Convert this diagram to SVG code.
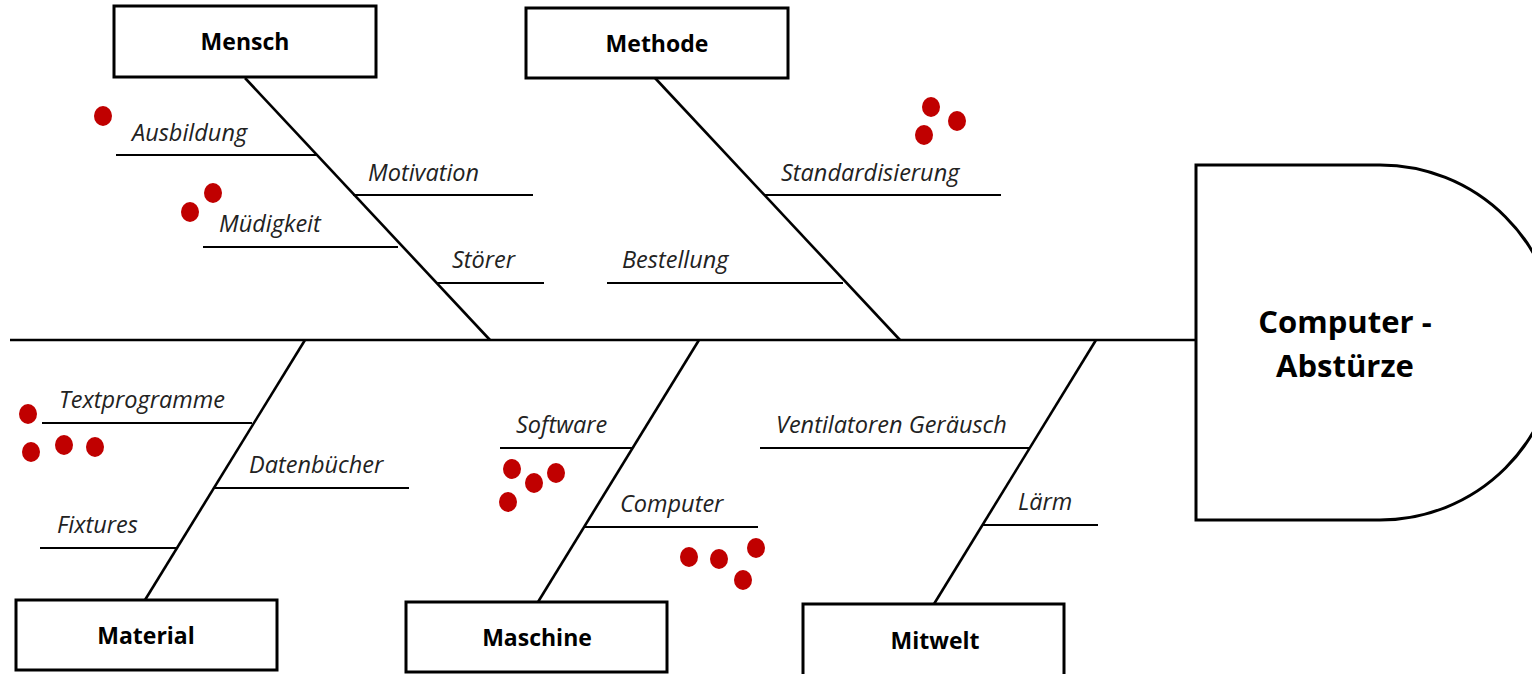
<svg xmlns="http://www.w3.org/2000/svg" width="1532" height="674" viewBox="0 0 1532 674">
<style>
.box{fill:#fff;stroke:#000;stroke-width:3}
.bone{stroke:#000;stroke-width:2.6;fill:none}
.sub{stroke:#000;stroke-width:2;fill:none}
.cat{font-family:"Open Sans","Noto Sans",sans-serif;font-weight:700;font-size:23px;fill:#000;text-anchor:middle}
.lbl{font-family:"Open Sans","Noto Sans",sans-serif;font-style:italic;font-weight:400;font-size:23.5px;fill:#222}
.head{font-family:"Open Sans","Noto Sans",sans-serif;font-weight:700;font-size:31px;fill:#000;text-anchor:middle}
.dot{fill:#c00000}
</style>
<rect width="1532" height="674" fill="#fff"/>
<g id="connectors">
<line class="bone" x1="10" y1="340" x2="1196" y2="340"/>
<line class="bone" x1="245" y1="78" x2="490" y2="340"/>
<line class="bone" x1="655" y1="78" x2="900" y2="340"/>
<line class="bone" x1="305" y1="340" x2="145" y2="600"/>
<line class="bone" x1="699" y1="340" x2="538" y2="602"/>
<line class="bone" x1="1096" y1="340" x2="934" y2="604"/>
<line class="sub" x1="116" y1="155" x2="316" y2="155"/>
<line class="sub" x1="353" y1="195" x2="533" y2="195"/>
<line class="sub" x1="203" y1="247" x2="398" y2="247"/>
<line class="sub" x1="436" y1="283" x2="544" y2="283"/>
<line class="sub" x1="765" y1="195" x2="1001" y2="195"/>
<line class="sub" x1="607" y1="283" x2="843" y2="283"/>
<line class="sub" x1="42" y1="423" x2="252" y2="423"/>
<line class="sub" x1="214" y1="488" x2="409" y2="488"/>
<line class="sub" x1="40" y1="548" x2="177" y2="548"/>
<line class="sub" x1="500" y1="448" x2="632" y2="448"/>
<line class="sub" x1="585" y1="527" x2="758" y2="527"/>
<line class="sub" x1="760" y1="448" x2="1030" y2="448"/>
<line class="sub" x1="982" y1="525" x2="1098" y2="525"/>
</g>
<g id="head">
<path class="box" d="M1196,165 H1380 A177.5,177.5 0 0 1 1380,520 H1196 Z"/>
<text class="head" x="1345" y="333">Computer -</text>
<text class="head" x="1345" y="377">Abstürze</text>
</g>
<g id="mensch">
<rect class="box" x="114" y="6" width="262" height="71"/>
<text class="cat" x="245" y="50">Mensch</text>
<text class="lbl" x="132" y="141">Ausbildung</text>
<text class="lbl" x="368" y="181">Motivation</text>
<text class="lbl" x="219" y="232">Müdigkeit</text>
<text class="lbl" x="452" y="268">Störer</text>
</g>
<g id="methode">
<rect class="box" x="526" y="8" width="262" height="70"/>
<text class="cat" x="657" y="52">Methode</text>
<text class="lbl" x="781" y="181">Standardisierung</text>
<text class="lbl" x="622" y="268">Bestellung</text>
</g>
<g id="material">
<rect class="box" x="16" y="600" width="261" height="70"/>
<text class="cat" x="146" y="644">Material</text>
<text class="lbl" x="59" y="408">Textprogramme</text>
<text class="lbl" x="249" y="473">Datenbücher</text>
<text class="lbl" x="57" y="533">Fixtures</text>
</g>
<g id="maschine">
<rect class="box" x="406" y="602" width="261" height="70"/>
<text class="cat" x="537" y="646">Maschine</text>
<text class="lbl" x="516" y="433">Software</text>
<text class="lbl" x="620" y="512">Computer</text>
</g>
<g id="mitwelt">
<rect class="box" x="803" y="604" width="261" height="72"/>
<text class="cat" x="935" y="649">Mitwelt</text>
<text class="lbl" x="776" y="433">Ventilatoren Geräusch</text>
<text class="lbl" x="1018" y="510">Lärm</text>
</g>
<g id="dots">
<ellipse class="dot" cx="103" cy="116" rx="9" ry="10"/>
<ellipse class="dot" cx="213" cy="193" rx="9" ry="10"/>
<ellipse class="dot" cx="190" cy="212" rx="9" ry="10"/>
<ellipse class="dot" cx="931" cy="107" rx="9" ry="10"/>
<ellipse class="dot" cx="957" cy="121" rx="9" ry="10"/>
<ellipse class="dot" cx="924" cy="135" rx="9" ry="10"/>
<ellipse class="dot" cx="28" cy="414" rx="9" ry="10"/>
<ellipse class="dot" cx="31" cy="452" rx="9" ry="10"/>
<ellipse class="dot" cx="64" cy="445" rx="9" ry="10"/>
<ellipse class="dot" cx="95" cy="447" rx="9" ry="10"/>
<ellipse class="dot" cx="512" cy="469" rx="9" ry="10"/>
<ellipse class="dot" cx="534" cy="483" rx="9" ry="10"/>
<ellipse class="dot" cx="556" cy="473" rx="9" ry="10"/>
<ellipse class="dot" cx="508" cy="502" rx="9" ry="10"/>
<ellipse class="dot" cx="689" cy="557" rx="9" ry="10"/>
<ellipse class="dot" cx="719" cy="559" rx="9" ry="10"/>
<ellipse class="dot" cx="756" cy="548" rx="9" ry="10"/>
<ellipse class="dot" cx="743" cy="580" rx="9" ry="10"/>
</g>
</svg>
